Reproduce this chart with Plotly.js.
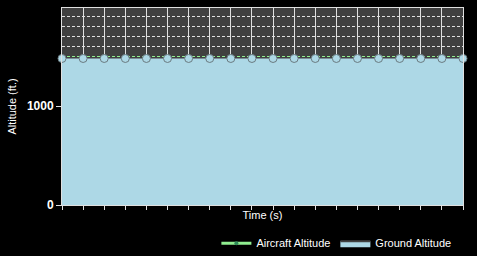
<!DOCTYPE html>
<html><head><meta charset="utf-8">
<script src="https://cdn.plot.ly/plotly-3.0.1.min.js"></script>
<style>html,body{margin:0;padding:0;background:#000;}#c{width:477px;height:256px;}</style>
</head><body><div id="c"></div>
<script>
var timeS = [0,1,2,3,4,5,6,7,8,9,10,11,12,13,14,15,16,17,18,19];
var aircraftAltitude = [1500,1500,1500,1500,1500,1500,1500,1500,1500,1500,1500,1500,1500,1500,1500,1500,1500,1500,1500,1500];
var groundAltitude = [1480,1480,1480,1480,1480,1480,1480,1480,1480,1480,1480,1480,1480,1480,1480,1480,1480,1480,1480,1480];
var yTickVals = [0, 1000];
var yTickText = ['0', '1000'];

var traces = [
  {x: timeS, y: aircraftAltitude, type: 'scatter', mode: 'lines', name: 'Aircraft Altitude',
   line: {color: '#90EE90', width: 1, dash: '3px,2px'}, showlegend: false, hoverinfo: 'skip'},
  {x: timeS, y: groundAltitude, type: 'scatter', mode: 'lines+markers', name: 'Ground Altitude',
   fill: 'tozeroy', fillcolor: '#ADD8E6', line: {color: '#ADD8E6', width: 0},
   marker: {color: '#ADD8E6', size: 8, line: {color: '#6a7a80', width: 1}},
   showlegend: false, cliponaxis: false},
  {x: [null], y: [null], type: 'scatter', mode: 'lines+markers', name: 'Aircraft Altitude',
   line: {color: '#90EE90', width: 3}, marker: {color: '#2e8b57', size: 4}},
  {x: [null], y: [null], type: 'scatter', mode: 'lines', name: 'Ground Altitude',
   fill: 'toself', fillcolor: '#ADD8E6', line: {color: '#404040', width: 2}}
];

var layout = {
  width: 477, height: 256,
  margin: {l: 62, r: 14, t: 8, b: 51, autoexpand: false},
  paper_bgcolor: '#000000', plot_bgcolor: '#404040',
  font: {family: 'Liberation Sans, Arial, sans-serif', size: 11, color: '#ffffff'},
  showlegend: true,
  legend: {orientation: 'h', x: 0.385, xanchor: 'left', y: -0.12, yanchor: 'top',
           font: {size: 11, color: '#ffffff'}, bgcolor: 'rgba(0,0,0,0)', itemwidth: 30, tracegroupgap: 0},
  xaxis: {range: [0, 19], dtick: 1, tick0: 0, showticklabels: false, ticks: 'outside', ticklen: 4,
          tickcolor: '#e0e0e0', showgrid: true, gridcolor: '#e0e0e0', gridwidth: 1,
          showline: true, linecolor: '#e0e0e0', linewidth: 1, mirror: true, zeroline: false,
          title: {text: 'Time (s)', font: {size: 11, color: '#ffffff'}, standoff: 2}},
  yaxis: {range: [0, 1990], tickvals: yTickVals, ticktext: yTickText, ticks: 'outside', ticklen: 5,
          tickcolor: '#e0e0e0', tickfont: {size: 12, color: '#ffffff', weight: 'bold'},
          showgrid: true, gridcolor: '#e0e0e0', griddash: '3px,2px', gridwidth: 1,
          minor: {dtick: 100, showgrid: true, gridcolor: '#e0e0e0', griddash: '3px,2px', gridwidth: 1},
          showline: true, linecolor: '#e0e0e0', linewidth: 1, mirror: true, zeroline: false,
          title: {text: 'Altitude (ft.)', font: {size: 11, color: '#ffffff'}, standoff: 8}}
};
Plotly.newPlot('c', traces, layout, {displayModeBar: false, staticPlot: true});
</script></body></html>
